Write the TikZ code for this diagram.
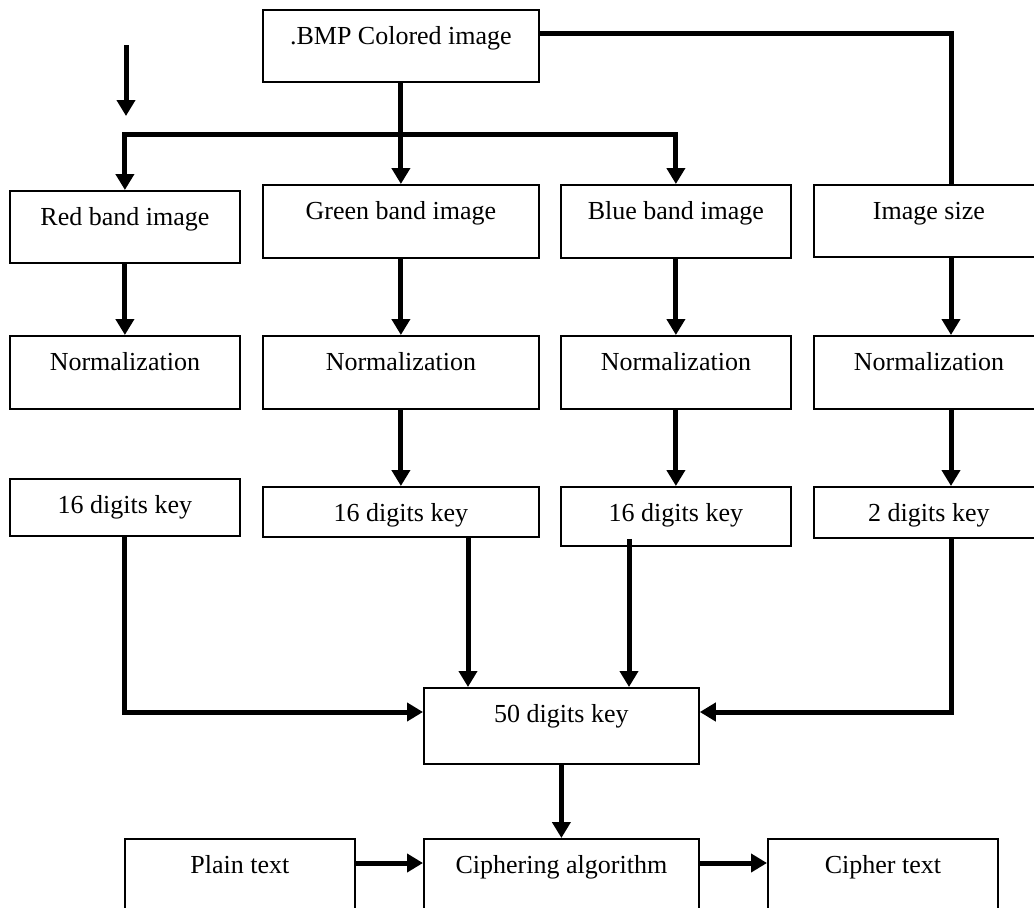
\documentclass[tikz,border=0pt]{standalone}
\usepackage{fontspec}
\setmainfont{Liberation Serif}
\usetikzlibrary{arrows.meta, math}

\tikzset{
  blk/.style 2 args={draw, line width=1.8pt, inner sep=0pt, anchor=north west,
    font=\fontsize{26}{28}\selectfont, text height=35pt,
    minimum width=#1pt, text depth=#2pt},
  ln/.style={line width=5pt},
  arr/.style={line width=5pt, -{Triangle[length=16pt,width=18pt]}},
  arrboth/.style={line width=5pt, {Triangle[length=16pt,width=18pt]}-{Triangle[length=16pt,width=18pt]}}
}

\begin{document}
\begin{tikzpicture}[x=1pt, y=-1pt]
\tikzmath{
\bw=230;
\Bw=276;
\cw=275;
}
\useasboundingbox (0,0) rectangle (1034,908);
\clip (0,0) rectangle (1034,908);

 %top box
 \node[blk={\Bw}{37}] (bmp) at (262,9) {.BMP Colored image};

 %bands
 \node[blk={\bw}{37}] (red) at (9,190) {Red band image};
 \node[blk={\Bw}{38}] (green) at (262,184) {Green band image};
 \node[blk={\bw}{38}] (blue) at (560,184) {Blue band image};
 \node[blk={\bw}{37}] (size) at (813,184) {Image size};

 %normalization
 \node[blk={\bw}{38}] (rnorm) at (9,335) {Normalization};
 \node[blk={\Bw}{38}] (gnorm) at (262,335) {Normalization};
 \node[blk={\bw}{38}] (bnorm) at (560,335) {Normalization};
 \node[blk={\bw}{38}] (snorm) at (813,335) {Normalization};

 %keys
 \node[blk={\bw}{22}] (rkey) at (9,478) {16 digits key};
 \node[blk={\Bw}{15}] (gkey) at (262,486) {16 digits key};
 \node[blk={\bw}{24}] (bkey) at (560,486) {16 digits key};
 \node[blk={\bw}{16}] (skey) at (813,486) {2 digits key};

 %bottom
 \node[blk={\cw}{41}] (key50) at (423,687) {50 digits key};
 \node[blk={\bw}{41}] (plain) at (124,838) {Plain text};
 \node[blk={\cw}{41}] (ciph) at (423,838) {Ciphering algorithm};
 \node[blk={\bw}{41}] (cipher) at (767,838) {Cipher text};

 \coordinate (in) at (126,45);
 \coordinate (inE) at (126,116);
 \coordinate (bar) at (0,134);
 \coordinate (sz) at (951,33);
 \coordinate (gx) at (468,0);
 \coordinate (bx) at (629,0);
 \coordinate (mid) at (0,712);
 \coordinate (row) at (0,863);
 \coordinate (bs) at ([yshift=8pt]bkey.south);

 %upper connectors
 \draw[arr] (in) -- (inE);
 \draw[arrboth] (red.north) -- (red.north |- bar) -- (blue.north |- bar) -- (blue.north);
 \draw[arr] (bmp.south) -- (green.north);
 \draw[ln] (bmp.east |- sz) -- (sz) -- (sz |- size.north);

 %columns
 \draw[arr] (red.south) -- (rnorm.north);
 \draw[arr] (green.south) -- (gnorm.north);
 \draw[arr] (blue.south) -- (bnorm.north);
 \draw[arr] (sz |- size.south) -- (sz |- snorm.north);
 \draw[arr] (gnorm.south) -- (gkey.north);
 \draw[arr] (bnorm.south) -- (bkey.north);
 \draw[arr] (sz |- snorm.south) -- (sz |- skey.north);

 %keys into the 50 digits key
 \draw[arr] (rkey.south) |- (key50.west |- mid);
 \draw[arr] (gkey.south -| gx) -- (key50.north -| gx);
 \draw[arr] (bs -| bx) -- (key50.north -| bx);
 \draw[arr] (sz |- skey.south) |- (key50.east |- mid);

 %ciphering
 \draw[arr] (key50.south) -- (ciph.north);
 \draw[arr] (plain.east |- row) -- (ciph.west |- row);
 \draw[arr] (ciph.east |- row) -- (cipher.west |- row);
\end{tikzpicture}
\end{document}
